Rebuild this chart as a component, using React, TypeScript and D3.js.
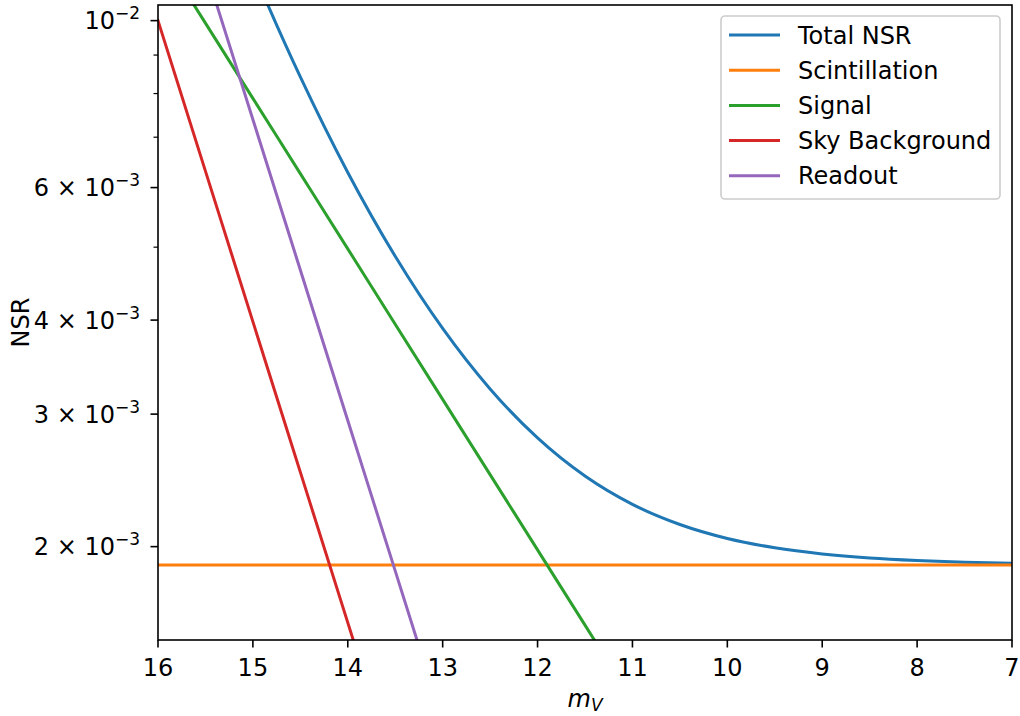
import React from "react";
import * as d3 from "d3";

// Magnitude grid (m_V)
const magnitudes = [16, 15.5, 15, 14.5, 14, 13.5, 13, 12.5, 12, 11.5, 11, 10.5, 10, 9.5, 9, 8.5, 8, 7.5, 7];

// NSR values in units of 1e-3
const totalNSR = [24.6, 16.71, 11.67, 8.417, 6.284, 4.862, 3.899, 3.24, 2.789, 2.482, 2.276, 2.14, 2.0505, 1.993, 1.956, 1.932, 1.917, 1.907, 1.901];
const scintillation = [1.891, 1.891, 1.891, 1.891, 1.891, 1.891, 1.891, 1.891, 1.891, 1.891, 1.891, 1.891, 1.891, 1.891, 1.891, 1.891, 1.891, 1.891, 1.891];
const signal = [12.49, 9.924, 7.883, 6.262, 4.974, 3.95, 3.138, 2.493, 1.98, 1.573, 1.249, 0.9924, 0.7883, 0.6262, 0.4974, 0.395, 0.3138, 0.2493, 0.198];
const skyBackground = [10, 6.31, 3.981, 2.512, 1.585, 1.0, 0.631, 0.3981, 0.2512, 0.1585, 0.1, 0.0631, 0.0398, 0.0251, 0.01585, 0.01, 0.00631, 0.00398, 0.00251];
const readout = [18.52, 11.71, 7.391, 4.663, 2.942, 1.857, 1.171, 0.7389, 0.4662, 0.2942, 0.1856, 0.1171, 0.0739, 0.0466, 0.0294, 0.01856, 0.01171, 0.00739, 0.00466];

const seriesNames = ["Total NSR", "Scintillation", "Signal", "Sky Background", "Readout"];
const seriesColors = ["#1f77b4", "#ff7f0e", "#2ca02c", "#d62728", "#9467bd"];
const seriesValues = [totalNSR, scintillation, signal, skyBackground, readout];

const xTicks = [16, 15, 14, 13, 12, 11, 10, 9, 8, 7];
const yMajorTicks = [
  { v: 0.01, mant: "", exp: "−2" },
  { v: 0.006, mant: "6 × ", exp: "−3" },
  { v: 0.004, mant: "4 × ", exp: "−3" },
  { v: 0.003, mant: "3 × ", exp: "−3" },
  { v: 0.002, mant: "2 × ", exp: "−3" },
];
const yMinorTicks = [0.009, 0.008, 0.007, 0.005];

const W = 1020;
const H = 716;
const left = 158;
const right = 1012;
const top = 5;
const bottom = 640;
const FONT = "DejaVu Sans";
const FS = 24;
const FS_SUP = 17;

export default function App() {
  const x = d3.scaleLinear().domain([16, 7]).range([left, right]);
  const y = d3.scaleLog().domain([1.503e-3, 1.049e-2]).range([bottom, top]);

  const line = d3
    .line<[number, number]>()
    .x((d) => x(d[0]))
    .y((d) => y(d[1]))
    .curve(d3.curveMonotoneX);

  const legendX = 721;
  const legendY = 16;
  const legendW = 279;
  const legendH = 183;
  const rowGap = 35.2;

  return (
    <svg width={W} height={H} style={{ position: "absolute", left: 0, top: 0, background: "#fff" }} fontFamily={FONT}>
      <defs>
        <clipPath id="plotclip">
          <rect x={left} y={top} width={right - left} height={bottom - top} />
        </clipPath>
      </defs>
      <rect x={0} y={0} width={W} height={H} fill="#fff" />
      <g clipPath="url(#plotclip)">
        {seriesValues.map((vals, i) => (
          <path
            key={i}
            d={line(magnitudes.map((m, j) => [m, vals[j] * 1e-3] as [number, number])) || ""}
            fill="none"
            stroke={seriesColors[i]}
            strokeWidth={3}
            strokeLinecap="square"
          />
        ))}
      </g>
      {/* spines */}
      <rect x={left} y={top} width={right - left} height={bottom - top} fill="none" stroke="#000" strokeWidth={1.6} />
      {/* x ticks */}
      {xTicks.map((t) => (
        <g key={t}>
          <line x1={x(t)} x2={x(t)} y1={bottom} y2={bottom + 7.5} stroke="#000" strokeWidth={1.6} />
          <text x={x(t)} y={676} textAnchor="middle" fontSize={FS} fill="#000">
            {t}
          </text>
        </g>
      ))}
      {/* y ticks */}
      {yMajorTicks.map((t) => (
        <g key={t.v}>
          <line x1={left - 7.5} x2={left} y1={y(t.v)} y2={y(t.v)} stroke="#000" strokeWidth={1.6} />
          <text x={140} y={y(t.v) + 8.7} textAnchor="end" fontSize={FS} fill="#000">
            {t.mant + "10"}
            <tspan dy={-10} fontSize={FS_SUP}>
              {t.exp}
            </tspan>
          </text>
        </g>
      ))}
      {yMinorTicks.map((v) => (
        <line key={v} x1={left - 4.5} x2={left} y1={y(v)} y2={y(v)} stroke="#000" strokeWidth={1.2} />
      ))}
      {/* axis labels */}
      <text x={(left + right) / 2} y={707} textAnchor="middle" fontSize={FS} fill="#000">
        <tspan fontStyle="italic">m</tspan>
        <tspan fontStyle="italic" fontSize={FS_SUP} dy={4}>
          V
        </tspan>
      </text>
      <text
        transform={`translate(29, ${(top + bottom) / 2}) rotate(-90)`}
        textAnchor="middle"
        fontSize={FS}
        fill="#000"
      >
        NSR
      </text>
      {/* legend */}
      <rect
        x={legendX}
        y={legendY}
        width={legendW}
        height={legendH}
        rx={4}
        fill="#fff"
        fillOpacity={0.8}
        stroke="#cccccc"
        strokeWidth={1.6}
      />
      {seriesNames.map((name, i) => {
        const cy = 35 + i * rowGap;
        return (
          <g key={name}>
            <line x1={729} x2={780} y1={cy} y2={cy} stroke={seriesColors[i]} strokeWidth={3} />
            <text x={798} y={cy + 8.5} fontSize={FS} fill="#000">
              {name}
            </text>
          </g>
        );
      })}
    </svg>
  );
}
